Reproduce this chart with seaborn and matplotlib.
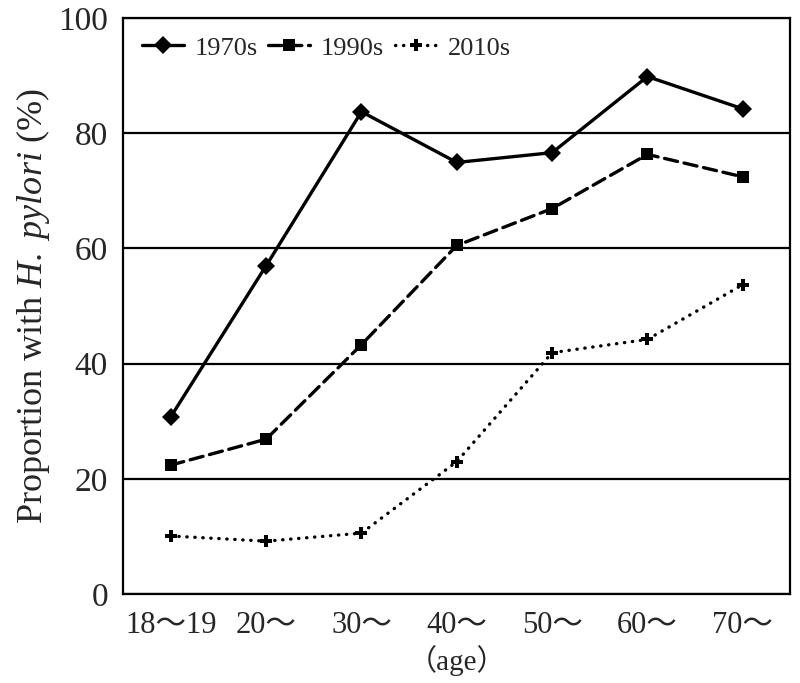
import seaborn as sns
import matplotlib.pyplot as plt
import pandas as pd

ages = ["18〜19", "20〜", "30〜", "40〜", "50〜", "60〜", "70〜"]
decades = ["1970s", "1990s", "2010s"]
v1970 = [30.8, 57.0, 83.7, 74.9, 76.6, 89.8, 84.2]
v1990 = [22.4, 26.9, 43.3, 60.5, 66.9, 76.3, 72.4]
v2010 = [10.1, 9.2, 10.6, 23.0, 41.9, 44.2, 53.7]
yticks = [0, 20, 40, 60, 80, 100]

sns.set_style("white")
plt.rcParams['font.family'] = ['Liberation Serif', 'Noto Sans CJK JP']
plt.rcParams['mathtext.fontset'] = 'custom'
plt.rcParams['mathtext.rm'] = 'Liberation Serif'
plt.rcParams['mathtext.it'] = 'Liberation Serif:italic'
plt.rcParams['lines.dash_capstyle'] = 'round'

rows = []
for dec, vals in zip(decades, [v1970, v1990, v2010]):
    for i, v in enumerate(vals):
        rows.append({"pos": i, "val": v, "decade": dec})
df = pd.DataFrame(rows)

fig = plt.figure(figsize=(8, 6.83), dpi=100)
ax = fig.add_axes([0.154, 0.130, 0.834, 0.844])

sns.lineplot(data=df, x="pos", y="val", hue="decade", style="decade",
             palette={d: "black" for d in decades},
             markers={"1970s": "D", "1990s": "s", "2010s": "P"},
             dashes={"1970s": "", "1990s": (4, 2), "2010s": (0.1, 2.3)},
             linewidth=2.4, markersize=9, markeredgewidth=0, ax=ax)

for ln in ax.lines:
    if ln.get_marker() == "P":
        ln.set_markersize(8)

ax.set_xlim(-0.5, 6.5)
ax.set_ylim(0, 100)
ax.set_yticks(yticks)
ax.set_xticks([i - 0.5 for i in range(8)])
ax.set_xticklabels([])
ax.set_xticks(range(7), minor=True)
ax.set_xticklabels(ages, minor=True, fontsize=22)
ax.tick_params(axis="x", which="major", direction="out", length=7, width=1.5)
ax.tick_params(axis="x", which="minor", length=0, pad=12)
ax.tick_params(axis="y", direction="out", length=7, width=1.5, labelsize=24, pad=4)
ax.yaxis.grid(True, color="black", linewidth=1.6)
ax.set_axisbelow(True)
for s in ax.spines.values():
    s.set_color("black")
    s.set_linewidth(1.6)

ax.set_xlabel("（age）", fontsize=21, labelpad=4)
ax.set_ylabel(r"Proportion with $\mathit{H.\ pylori}$ (%)", fontsize=26, labelpad=4)

ax.legend(loc="upper left", ncol=3, frameon=False, fontsize=19,
          handlelength=1.6, columnspacing=0.4, handletextpad=0.4,
          borderaxespad=0.3, bbox_to_anchor=(0.0, 1.0))

fig.savefig("out.png", dpi=100)
